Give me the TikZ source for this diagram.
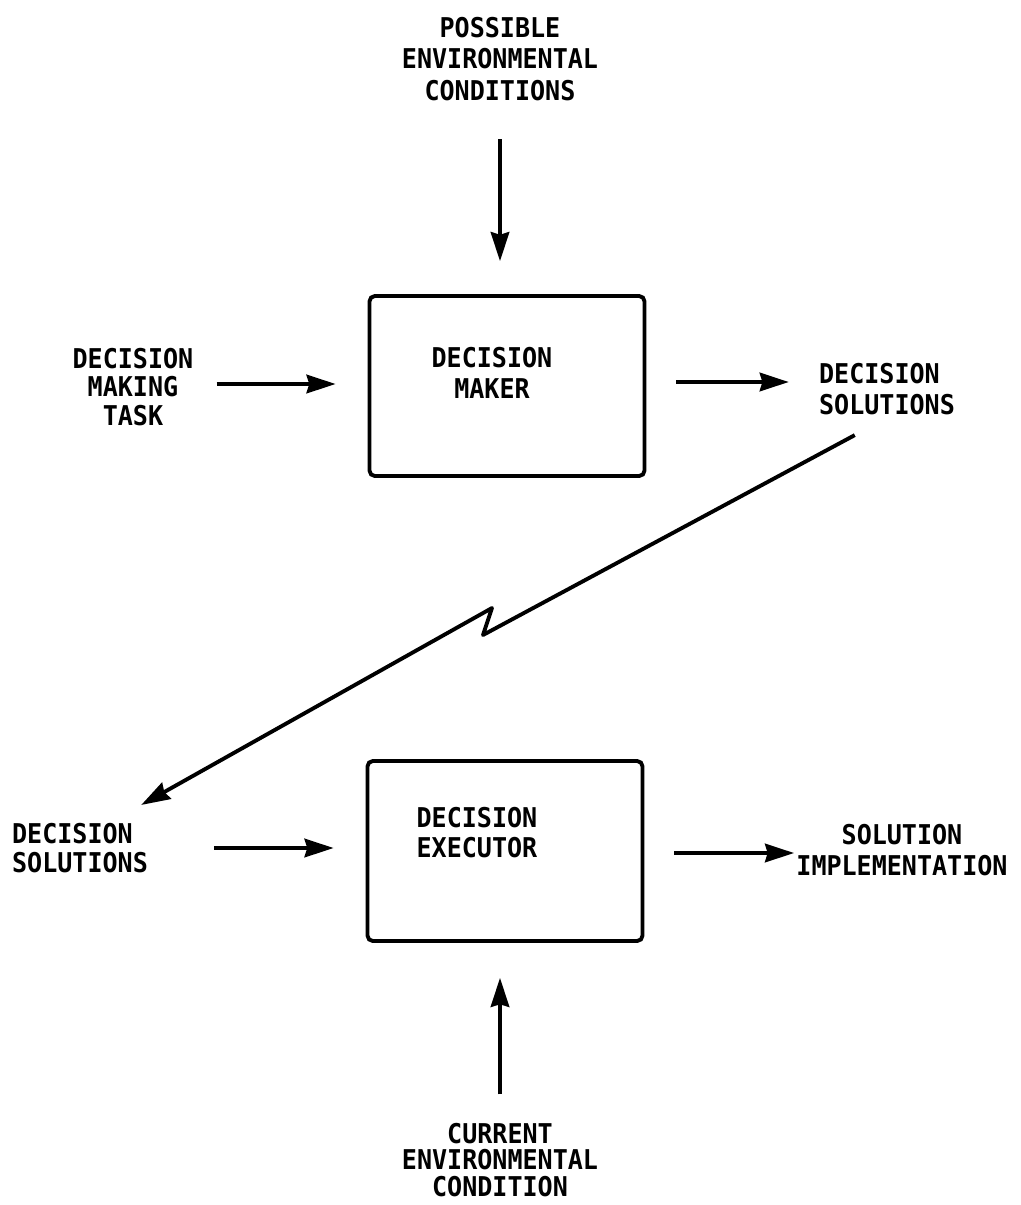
\documentclass[tikz,border=0pt]{standalone}
\usepackage{fontspec}
\newfontfamily\gothic[FakeStretch=0.92]{DejaVu Sans Mono Bold}
\usetikzlibrary{arrows.meta,calc}
\tikzset{
  lbl/.style={inner sep=0pt, align=center, font=\gothic\fontsize{15.5}{#1}\selectfont},
  lbl/.default=17.5pt,
  lbll/.style={lbl=#1, align=left},
  lbll/.default=17.5pt,
  unit/.style={draw, line width=2.2pt, rounded corners=3pt, inner sep=0pt,
    minimum width=5.5cm, minimum height=3.6cm},
  arr/.style={line width=2.2pt, line join=round,
    -{Stealth[length=16.5pt, width=10.5pt, inset=1.5pt]}}
}
\begin{document}
\begin{tikzpicture}[x=0.02cm, y=-0.02cm]
  \useasboundingbox (0,0) rectangle (1021,1205);

  % upper unit
  \node[unit] (maker) at (507,386) {};
  \node[lbl=17.6pt] (makertext) at (492,373) {DECISION\\MAKER};

  % lower unit
  \node[unit] (exec) at (505,851) {};
  \node[lbll=17pt] (exectext) at (477,833) {DECISION\\EXECUTOR};

  % inputs and outputs
  \node[lbl=18.1pt] (pec) at (500,59) {POSSIBLE\\ENVIRONMENTAL\\CONDITIONS};
  \node[lbl=16.4pt] (task) at (133,387) {DECISION\\MAKING\\TASK};
  \node[lbll=17.6pt] (sol1) at (887,389) {DECISION\\SOLUTIONS};
  \node[lbll=16.4pt] (sol2) at (80,848) {DECISION\\SOLUTIONS};
  \node[lbl=17.6pt] (impl) at (902,850) {SOLUTION\\IMPLEMENTATION};
  \node[lbl=15.3pt] (cec) at (500,1160) {CURRENT\\ENVIRONMENTAL\\CONDITION};

  % connectors of the upper unit
  \draw[arr, shorten <=0.76cm, shorten >=0.66cm]
    (pec.south) -- (pec.south |- maker.north);
  \draw[arr, shorten <=0.46cm, shorten >=0.64cm]
    ([yshift=0.06cm]task.east) -- ([yshift=0.06cm]task.east -| maker.west);
  \draw[arr, shorten <=0.6cm, shorten >=0.6cm]
    ([yshift=0.08cm]maker.east) -- ([yshift=0.08cm]maker.east -| sol1.west);

  % transmission link between the units
  \draw[arr]
    ($(sol1.south west)+(36,20)$) -- (483,635) -- (492,608)
    -- ($(sol2.north east)+(-7,-18)$);

  % connectors of the lower unit
  \draw[arr, shorten <=1.32cm, shorten >=0.64cm]
    (sol2.east) -- (sol2.east -| exec.west);
  \draw[arr, shorten <=0.6cm, shorten >=0.04cm]
    ([yshift=-0.04cm]exec.east) -- ([yshift=-0.04cm]exec.east -| impl.west);
  \draw[arr, shorten <=0.56cm, shorten >=0.7cm]
    (cec.north) -- (cec.north |- exec.south);
\end{tikzpicture}
\end{document}
